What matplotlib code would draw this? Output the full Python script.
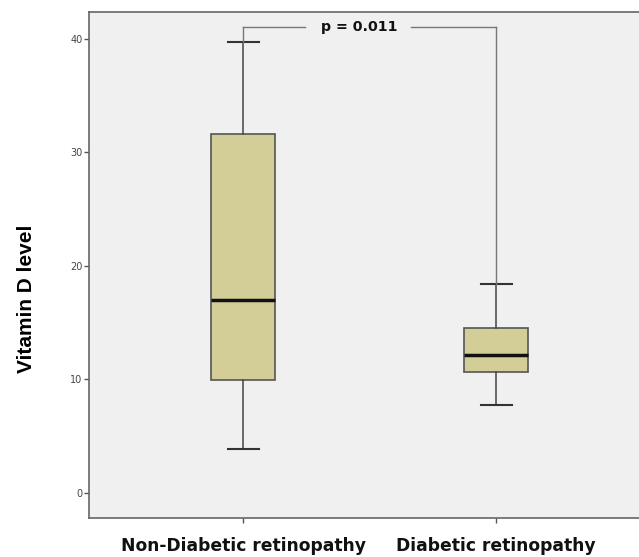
import matplotlib.pyplot as plt

# data
groups = ['Non-Diabetic retinopathy', 'Diabetic retinopathy']
whisker_low = [3.85, 7.7]
q1 = [9.95, 10.6]
median = [17.0, 12.15]
q3 = [31.6, 14.5]
whisker_high = [39.7, 18.4]
p_text = 'p = 0.011'
bracket_y = 41.0

fig = plt.figure(figsize=(6.39, 5.57), dpi=100)
ax = fig.add_axes([0.1393, 0.070, 0.8607, 0.9085])
ax.set_facecolor('#f0f0f0')

stats = []
for i in range(len(groups)):
    stats.append({'whislo': whisker_low[i], 'q1': q1[i], 'med': median[i],
                  'q3': q3[i], 'whishi': whisker_high[i], 'fliers': [],
                  'label': groups[i]})

positions = [1, 2]
ax.bxp(stats, positions=positions, widths=0.253, capwidths=0.123,
       showfliers=False, patch_artist=True,
       boxprops=dict(facecolor='#d3ce97', edgecolor='#555555', linewidth=1.2),
       medianprops=dict(color='#111111', linewidth=2.5),
       whiskerprops=dict(color='#444444', linewidth=1.1),
       capprops=dict(color='#333333', linewidth=1.5))

# significance bracket
lc = '#777777'
ax.plot([positions[0], positions[0]], [whisker_high[0], bracket_y], color=lc, lw=1)
ax.plot([positions[1], positions[1]], [whisker_high[1], bracket_y], color=lc, lw=1)
ax.plot([positions[0], 1.245], [bracket_y, bracket_y], color=lc, lw=1)
ax.plot([1.665, positions[1]], [bracket_y, bracket_y], color=lc, lw=1)
ax.text(1.46, bracket_y, p_text, ha='center', va='center', fontsize=10.2,
        fontweight='bold', family='DejaVu Sans', color='#111111')

ax.set_xlim(0.391, 2.565)
ax.set_ylim(-2.23, 42.35)
ax.set_yticks([0, 10, 20, 30, 40])
ax.set_xticks(positions)
ax.set_xticklabels(groups, fontsize=12.3, fontweight='bold',
                   family='DejaVu Sans', color='#111111')
ax.tick_params(axis='x', length=3.6, width=1, color='#555555', pad=10)
ax.tick_params(axis='y', length=3.6, width=1, color='#555555', labelsize=7,
               labelcolor='#444444', pad=1)
ax.set_ylabel('Vitamin D level', fontsize=15, fontweight='heavy',
              family='Liberation Sans')
ax.yaxis.set_label_coords(-0.097, 0.433)

for s in ['left', 'bottom', 'top']:
    ax.spines[s].set_color('#666666')
    ax.spines[s].set_linewidth(1.2)
ax.spines['right'].set_visible(False)

fig.savefig('out.png', dpi=100)
